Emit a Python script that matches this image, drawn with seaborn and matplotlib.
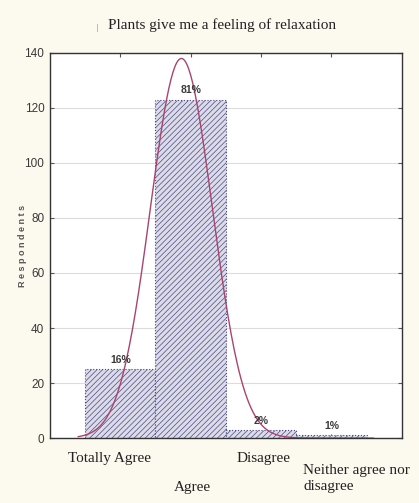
import numpy as np
import pandas as pd
import matplotlib
matplotlib.use("Agg")
import matplotlib.pyplot as plt
import seaborn as sns

# survey answers (coded 1..4) and number of respondents
categories = ["Totally Agree", "Agree", "Disagree", "Neither agree nor\ndisagree"]
codes = [1, 2, 3, 4]
respondents = [25, 123, 3, 1]
pct_labels = ["16%", "81%", "2%", "1%"]
yticks = [0, 20, 40, 60, 80, 100, 120, 140]

TITLE = "Plants give me a feeling of relaxation"
BG = "#fcf9ee"
BAR_FACE = "#dcdce8"
BAR_EDGE = "#4a4a88"
CURVE = "#a8446e"

def main():
    sns.set_style("white")
    plt.rcParams["hatch.linewidth"] = 0.5

    df = pd.DataFrame({"code": codes, "n": respondents})

    fig = plt.figure(figsize=(4.19, 5.03), dpi=100, facecolor=BG)
    ax = fig.add_axes([0.119, 0.129, 0.840, 0.766])
    ax.set_facecolor("white")

    sns.histplot(data=df, x="code", weights="n", discrete=True, ax=ax,
                 color=BAR_FACE, edgecolor=BAR_EDGE, linewidth=0.8,
                 linestyle=":", alpha=1.0, hatch="//////")

    # normal curve fitted to the answer distribution
    x = np.array(codes, dtype=float)
    w = np.array(respondents, dtype=float)
    total = w.sum()
    mu = (x * w).sum() / total
    sd = np.sqrt(((x - mu) ** 2 * w).sum() / total)
    xs = np.linspace(0.4, 4.6, 300)
    ys = total / (sd * np.sqrt(2 * np.pi)) * np.exp(-0.5 * ((xs - mu) / sd) ** 2)
    sns.lineplot(x=xs, y=ys, ax=ax, color=CURVE, linewidth=1.0)

    narrow = ["Liberation Sans Narrow", "Liberation Sans"]

    # percentage labels above bars
    for c, n, p in zip(codes, respondents, pct_labels):
        ax.text(c, n + 1.5, p, ha="center", va="bottom", fontsize=7.5,
                fontweight="bold", color="#3a3a3a", family=narrow)

    ax.set_xlim(0, 5)
    ax.set_ylim(0, 140)
    ax.set_yticks(yticks)
    ax.set_yticklabels([str(t) for t in yticks], fontsize=8.5, color="#3a3a3a",
                       family=narrow)
    ax.set_xticks(codes)
    ax.set_xticklabels([])
    ax.tick_params(axis="x", direction="in", top=True, bottom=True, length=3, color="#555555")
    ax.tick_params(axis="y", direction="in", left=True, right=True, length=3, color="#555555",
                   pad=4)
    ax.yaxis.grid(True, color="#dcdcdc", linewidth=0.8)
    ax.set_axisbelow(True)
    for s in ax.spines.values():
        s.set_color("#333333")
        s.set_linewidth(1.0)

    ax.set_xlabel("")
    ax.set_ylabel("R e s p o n d e n t s", fontsize=6.5, fontweight="bold", color="#555555",
                  family=["Liberation Sans"])
    ax.yaxis.set_label_coords(-0.065, 0.5)

    # category labels placed under the axis
    serif = ["Liberation Serif", "DejaVu Serif"]
    tr = ax.get_xaxis_transform()
    ax.text(0.85, -0.052, categories[0], transform=tr, ha="center", va="center",
            fontsize=11, family=serif, color="#222222")
    ax.text(2.02, -0.127, categories[1], transform=tr, ha="center", va="center",
            fontsize=11, family=serif, color="#222222")
    ax.text(3.03, -0.052, categories[2], transform=tr, ha="center", va="center",
            fontsize=11, family=serif, color="#222222")
    ax.text(3.6, -0.105, categories[3], transform=tr, ha="left", va="center",
            fontsize=11, family=serif, color="#222222", linespacing=1.3)

    fig.text(0.232, 0.944, "|", fontsize=6, family=serif, color="#555555",
             ha="center", va="center")
    fig.text(0.53, 0.95, TITLE, fontsize=11, family=serif, color="#222222",
             ha="center", va="center")

    fig.savefig("out.png", dpi=100, facecolor=BG)
    plt.close(fig)

if __name__ == "__main__":
    main()
